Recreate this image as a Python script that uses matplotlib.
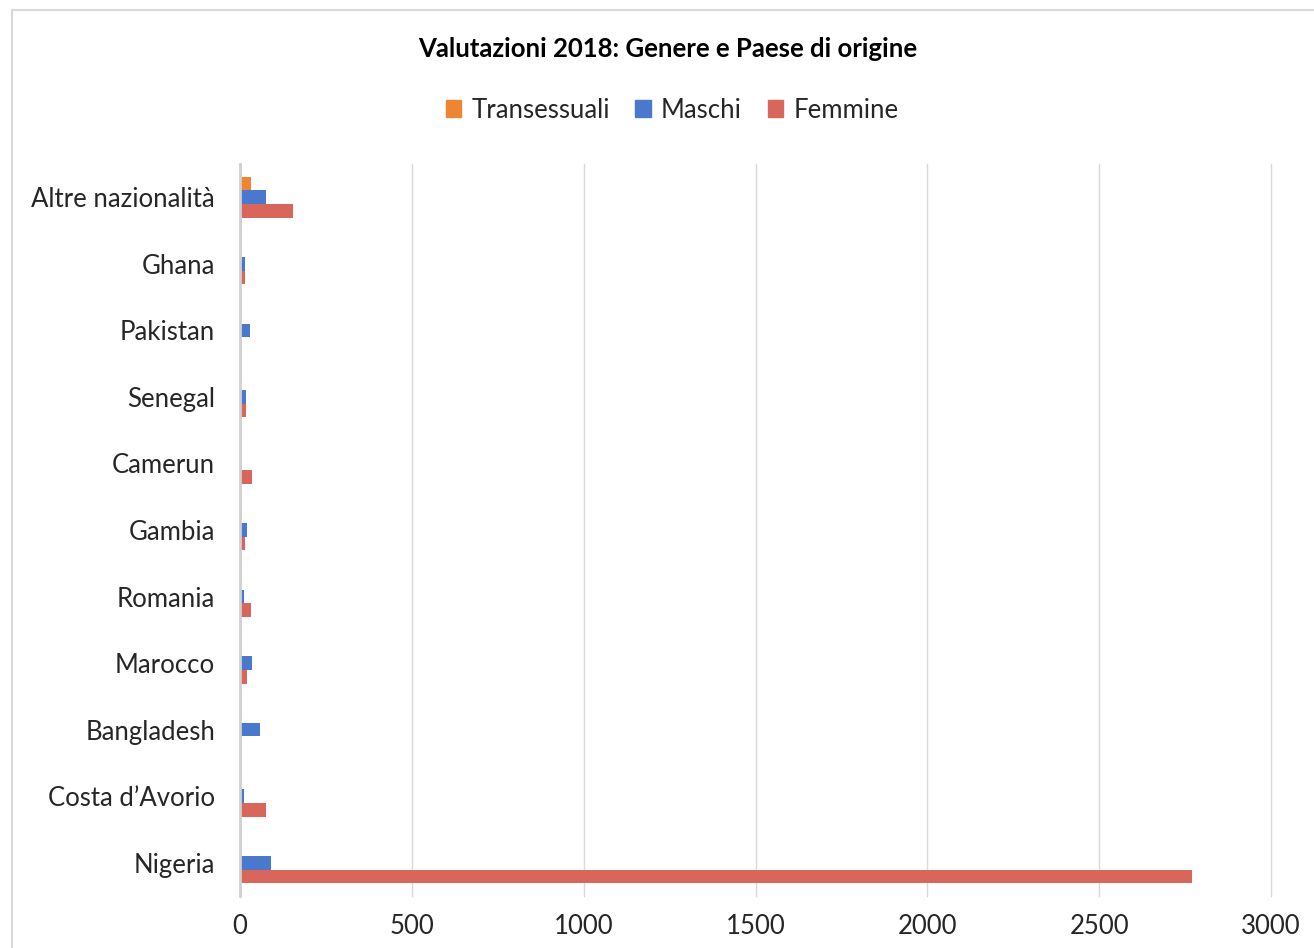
import numpy as np
import matplotlib.pyplot as plt
from matplotlib.patches import Rectangle, Patch

plt.rcParams['font.family'] = ['Lato', 'DejaVu Sans']

# Categories listed bottom to top (as drawn on the y axis)
paesi = ["Nigeria", "Costa d\u2019Avorio", "Bangladesh", "Marocco", "Romania",
         "Gambia", "Camerun", "Senegal", "Pakistan", "Ghana", "Altre nazionalità"]
transessuali = [0, 0, 0, 0, 0, 0, 0, 0, 0, 0, 32]
maschi = [90, 12, 58, 35, 12, 20, 0, 17, 28, 14, 76]
femmine = [2770, 76, 0, 20, 31, 16, 35, 17, 0, 14, 154]

c_trans = "#ED8533"
c_masc = "#4A78CC"
c_femm = "#D9665A"

fig = plt.figure(figsize=(13.14, 9.48), dpi=100)
ax = fig.add_axes([240 / 1314, 1 - 896 / 948, (1271 - 240) / 1314, (896 - 164) / 948])

y = np.arange(len(paesi))
h = 0.205
ax.barh(y + h, transessuali, height=h, color=c_trans)
ax.barh(y, maschi, height=h, color=c_masc)
ax.barh(y - h, femmine, height=h, color=c_femm)

ax.set_xlim(0, 3000)
ax.set_ylim(-0.5, len(paesi) - 0.5)
ax.set_xticks(np.arange(0, 3001, 500))
ax.set_yticks(y)
ax.set_yticklabels(paesi)
ax.tick_params(axis='both', length=0, labelsize=18.5, colors="#262626")
ax.tick_params(axis='y', pad=18)
ax.tick_params(axis='x', pad=13)
ax.grid(axis='x', color="#D9D9D9", linewidth=1)
for gl in ax.get_xgridlines():
    gl.set_clip_on(False)
ax.set_axisbelow(True)
for s in ["top", "right", "bottom"]:
    ax.spines[s].set_visible(False)
ax.spines["left"].set_color("#D0D0D0")
ax.spines["left"].set_linewidth(2)

fig.text(668 / 1314, 1 - 49 / 948, "Valutazioni 2018: Genere e Paese di origine",
         ha="center", va="center", fontsize=18.5, fontweight="bold", color="black")

handles = [Patch(color=c_trans), Patch(color=c_masc), Patch(color=c_femm)]
fig.legend(handles, ["Transessuali", "Maschi", "Femmine"], loc="center",
           bbox_to_anchor=(672 / 1314, 1 - 110 / 948), ncol=3, frameon=False,
           fontsize=18.5, handlelength=0.6, handleheight=0.6, handletextpad=0.4,
           columnspacing=1.0, labelcolor="#262626")

# chart border
fig.patches.append(Rectangle((12 / 1314, -0.01), 1.0, 1 - 10 / 948 + 0.01,
                             transform=fig.transFigure, fill=False,
                             edgecolor="#D9D9D9", linewidth=1.5))

fig.savefig("out.png", dpi=100, facecolor="white")
